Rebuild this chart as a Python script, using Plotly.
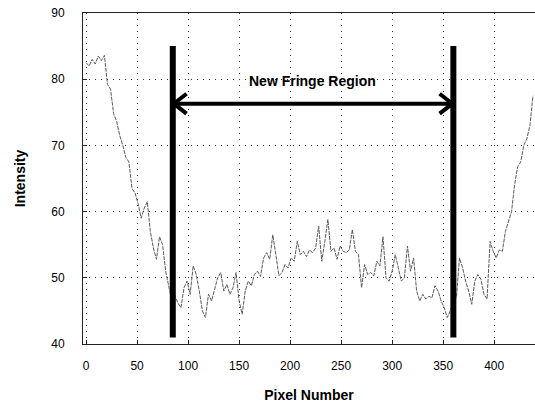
import plotly.graph_objects as go

# ---- data ----
pixel_number = list(range(0, 441, 3))
intensity = [
    82.5, 82.0, 83.0, 82.3, 83.5, 82.8, 83.6, 79.2, 78.5, 74.8,
    73.6, 71.5, 70.0, 68.2, 67.5, 63.5, 62.8, 61.2, 59.0, 60.5,
    61.5, 57.0, 54.5, 52.8, 56.2, 55.0, 51.0, 48.5, 46.5, 47.3,
    46.2, 45.5, 48.5, 49.5, 47.5, 51.8, 50.5, 48.0, 45.0, 44.0,
    47.5, 46.5, 48.5, 50.0, 50.8, 48.0, 49.0, 47.5, 48.5, 50.8,
    46.5, 44.5, 48.0, 49.5, 48.8, 50.5, 51.0, 50.2, 53.0, 53.8,
    52.8, 56.5, 53.5, 50.3, 50.8, 52.0, 51.5, 53.0, 52.5, 55.5,
    53.5, 54.0, 53.2, 54.2, 53.8, 54.5, 57.8, 52.5, 55.5, 58.8,
    54.0, 54.5, 52.8, 54.8, 54.0, 53.8, 54.2, 57.3, 54.0, 53.5,
    48.5, 52.0, 50.5, 50.8, 50.3, 52.5, 51.8, 56.2, 50.0, 49.5,
    51.0, 53.5, 51.5, 49.5, 50.0, 54.8, 51.0, 53.0, 48.0, 46.5,
    47.5, 46.8, 47.2, 47.0, 48.8, 48.0, 46.5, 45.5, 44.0, 45.0,
    46.5, 47.0, 53.0, 51.5, 49.5, 48.0, 46.0, 49.5, 50.5, 49.8,
    47.5, 46.8, 55.5, 54.0, 53.0, 54.2, 54.0, 57.0, 58.5, 60.0,
    64.0, 66.8, 67.5, 70.0, 71.0, 73.0, 77.5,
]

x_ticks = [0, 50, 100, 150, 200, 250, 300, 350, 400]
y_ticks = [40, 50, 60, 70, 80, 90]

region_start = 85
region_end = 360
region_bottom = 41
region_top = 85
arrow_level = 76.3
label_text = "New Fringe Region"
label_x = 222
label_y = 79.8

X_RANGE = [-3, 440]
Y_RANGE = [40, 90]

fig = go.Figure()
fig.add_trace(go.Scatter(
    x=pixel_number, y=intensity, mode="lines",
    line=dict(color="#5a5a5a", width=1, dash="4px,1px"),
    showlegend=False, hoverinfo="skip",
))

shapes = []
for xv in (region_start, region_end):
    shapes.append(dict(type="line", xref="x", yref="y",
                       x0=xv, x1=xv, y0=region_bottom, y1=region_top,
                       line=dict(color="black", width=6)))
# horizontal arrow shaft
shapes.append(dict(type="line", xref="x", yref="y",
                   x0=region_start, x1=region_end, y0=arrow_level, y1=arrow_level,
                   line=dict(color="black", width=4)))
# chevron heads (size in data units)
hx = 13.5
hy = 1.5
shapes.append(dict(type="path", xref="x", yref="y",
                   path=f"M {region_start + hx} {arrow_level + hy} L {region_start + 1} {arrow_level} L {region_start + hx} {arrow_level - hy}",
                   line=dict(color="black", width=4)))
shapes.append(dict(type="path", xref="x", yref="y",
                   path=f"M {region_end - hx} {arrow_level + hy} L {region_end - 1} {arrow_level} L {region_end - hx} {arrow_level - hy}",
                   line=dict(color="black", width=4)))

axis_common = dict(
    showgrid=True, gridcolor="#333333", griddash="1px,5px", gridwidth=1,
    zeroline=False, showline=True, linecolor="#222222", linewidth=1, mirror=True,
    ticks="inside", ticklen=4, tickcolor="#222222", automargin=False,
)

fig.update_layout(
    width=535, height=403,
    margin=dict(l=83, r=0, t=13, b=59, autoexpand=False),
    paper_bgcolor="white", plot_bgcolor="white",
    font=dict(family="Liberation Sans, Arial, sans-serif", color="black", size=12),
    shapes=shapes,
    annotations=[dict(x=label_x, y=label_y, xref="x", yref="y", text=f"<b>{label_text}</b>",
                      showarrow=False, font=dict(size=14, color="black"))],
    xaxis=dict(range=X_RANGE, tickvals=x_ticks, ticklabelstandoff=11,
               title=dict(text="<b>Pixel Number</b>", font=dict(size=14), standoff=18),
               **axis_common),
    yaxis=dict(range=Y_RANGE, tickvals=y_ticks, ticklabelstandoff=15,
               title=dict(text="<b>Intensity</b>", font=dict(size=14), standoff=22),
               **axis_common),
)

fig.write_html(
    "out.html",
    config={"displayModeBar": False},
    post_script="document.body.style.margin='0';document.body.style.overflow='hidden';",
)
